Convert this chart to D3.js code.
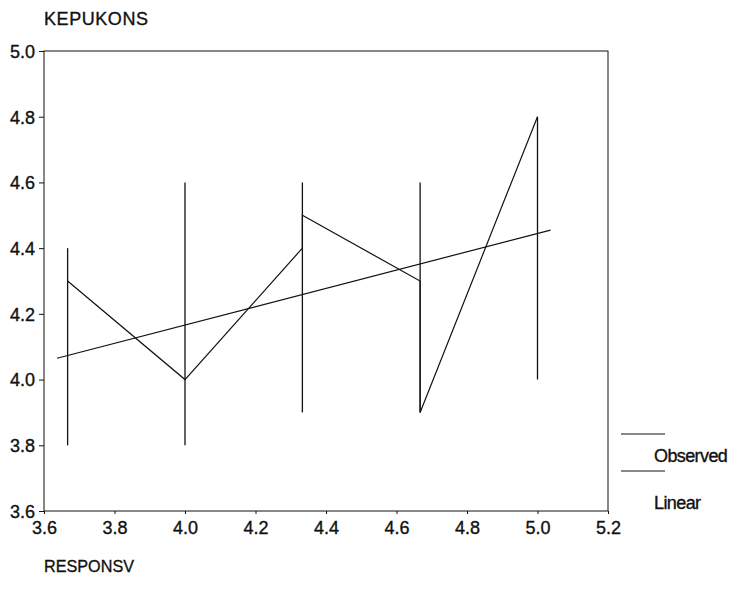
<!DOCTYPE html>
<html>
<head>
<meta charset="utf-8">
<script src="https://cdn.jsdelivr.net/npm/d3@7"></script>
<style>
  body { margin: 0; background: #fff; }
  svg { display: block; font-family: Arial, "Liberation Sans", sans-serif; }
  text { stroke: #111; stroke-width: 0.35px; }
</style>
</head>
<body>
<svg id="main"></svg>
<script>
// group positions (RESPONSV) and the spread of KEPUKONS at each
var groupX = [3.667, 4.0, 4.333, 4.667, 5.0];
var groupLow = [3.8, 3.8, 3.9, 3.9, 4.0];
var groupHigh = [4.4, 4.6, 4.6, 4.6, 4.8];

// observed line, in drawing order
var obsX = [3.667, 4.0, 4.333, 4.333, 4.667, 4.667, 5.0];
var obsY = [4.3, 4.0, 4.4, 4.5, 4.3, 3.9, 4.8];

// linear fit ends
var linX = [3.637, 5.037];
var linY = [4.065, 4.455];

var xTicks = [3.6, 3.8, 4.0, 4.2, 4.4, 4.6, 4.8, 5.0, 5.2];
var yTicks = [3.6, 3.8, 4.0, 4.2, 4.4, 4.6, 4.8, 5.0];

var chart = {
  width: 738,
  height: 592,
  left: 44,
  right: 608,
  top: 51,
  bottom: 511
}

var svg = d3.select("#main")
  .attr("width", chart.width)
  .attr("height", chart.height)

var x = d3.scaleLinear().domain([3.6, 5.2]).range([chart.left, chart.right])
var y = d3.scaleLinear().domain([3.6, 5.0]).range([chart.bottom, chart.top])

svg.append("rect")
  .attr("x", chart.left).attr("y", chart.top)
  .attr("width", chart.right - chart.left)
  .attr("height", chart.bottom - chart.top)
  .attr("fill", "none").attr("stroke", "#111").attr("stroke-width", 1)

var yAxis = svg.append("g")
  .attr("transform", "translate(" + chart.left + ",0)")
  .call(d3.axisLeft(y).tickValues(yTicks).tickFormat(d3.format(".1f")).tickSize(5).tickSizeOuter(0))
yAxis.select(".domain").remove()
yAxis.selectAll("text").attr("font-size", 18).attr("fill", "#111").attr("x", -9).attr("dy", "0.35em")
yAxis.selectAll("line").attr("stroke", "#111")

var xAxis = svg.append("g")
  .attr("transform", "translate(0," + chart.bottom + ")")
  .call(d3.axisBottom(x).tickValues(xTicks).tickFormat(d3.format(".1f")).tickSize(3).tickSizeOuter(0))
xAxis.select(".domain").remove()
xAxis.selectAll("text").attr("font-size", 18).attr("fill", "#111").attr("y", 9).attr("dy", "0.8em")
xAxis.selectAll("line").attr("stroke", "#111")

// vertical spread bars
svg.append("g").selectAll("line")
  .data(groupX)
  .enter().append("line")
  .attr("x1", function(d) { return x(d) })
  .attr("x2", function(d) { return x(d) })
  .attr("y1", function(d, i) { return y(groupLow[i]) })
  .attr("y2", function(d, i) { return y(groupHigh[i]) })
  .attr("stroke", "#111").attr("stroke-width", 1.3)

var line = d3.line()
  .x(function(d) { return x(d[0]) })
  .y(function(d) { return y(d[1]) })

svg.append("path")
  .datum(d3.zip(obsX, obsY))
  .attr("d", line)
  .attr("fill", "none").attr("stroke", "#111").attr("stroke-width", 1.2)

svg.append("path")
  .datum(d3.zip(linX, linY))
  .attr("d", line)
  .attr("fill", "none").attr("stroke", "#111").attr("stroke-width", 1.2)

// titles
svg.append("text").attr("x", 44).attr("y", 25).attr("font-size", 18).attr("fill", "#111")
  .attr("textLength", 104).text("KEPUKONS")
svg.append("text").attr("x", 44).attr("y", 572).attr("font-size", 17).attr("fill", "#111")
  .attr("textLength", 90).attr("lengthAdjust", "spacingAndGlyphs").text("RESPONSV")

// legend
var legend = [["Observed", 434, 462], ["Linear", 471, 509]]
legend.forEach(function(d) {
  svg.append("line")
    .attr("x1", 621).attr("x2", 665)
    .attr("y1", d[1]).attr("y2", d[1])
    .attr("stroke", "#111").attr("stroke-width", 1)
  svg.append("text")
    .attr("x", 654).attr("y", d[2])
    .attr("font-size", 18).attr("fill", "#111").attr("letter-spacing", -0.6)
    .text(d[0])
})
</script>
</body>
</html>
